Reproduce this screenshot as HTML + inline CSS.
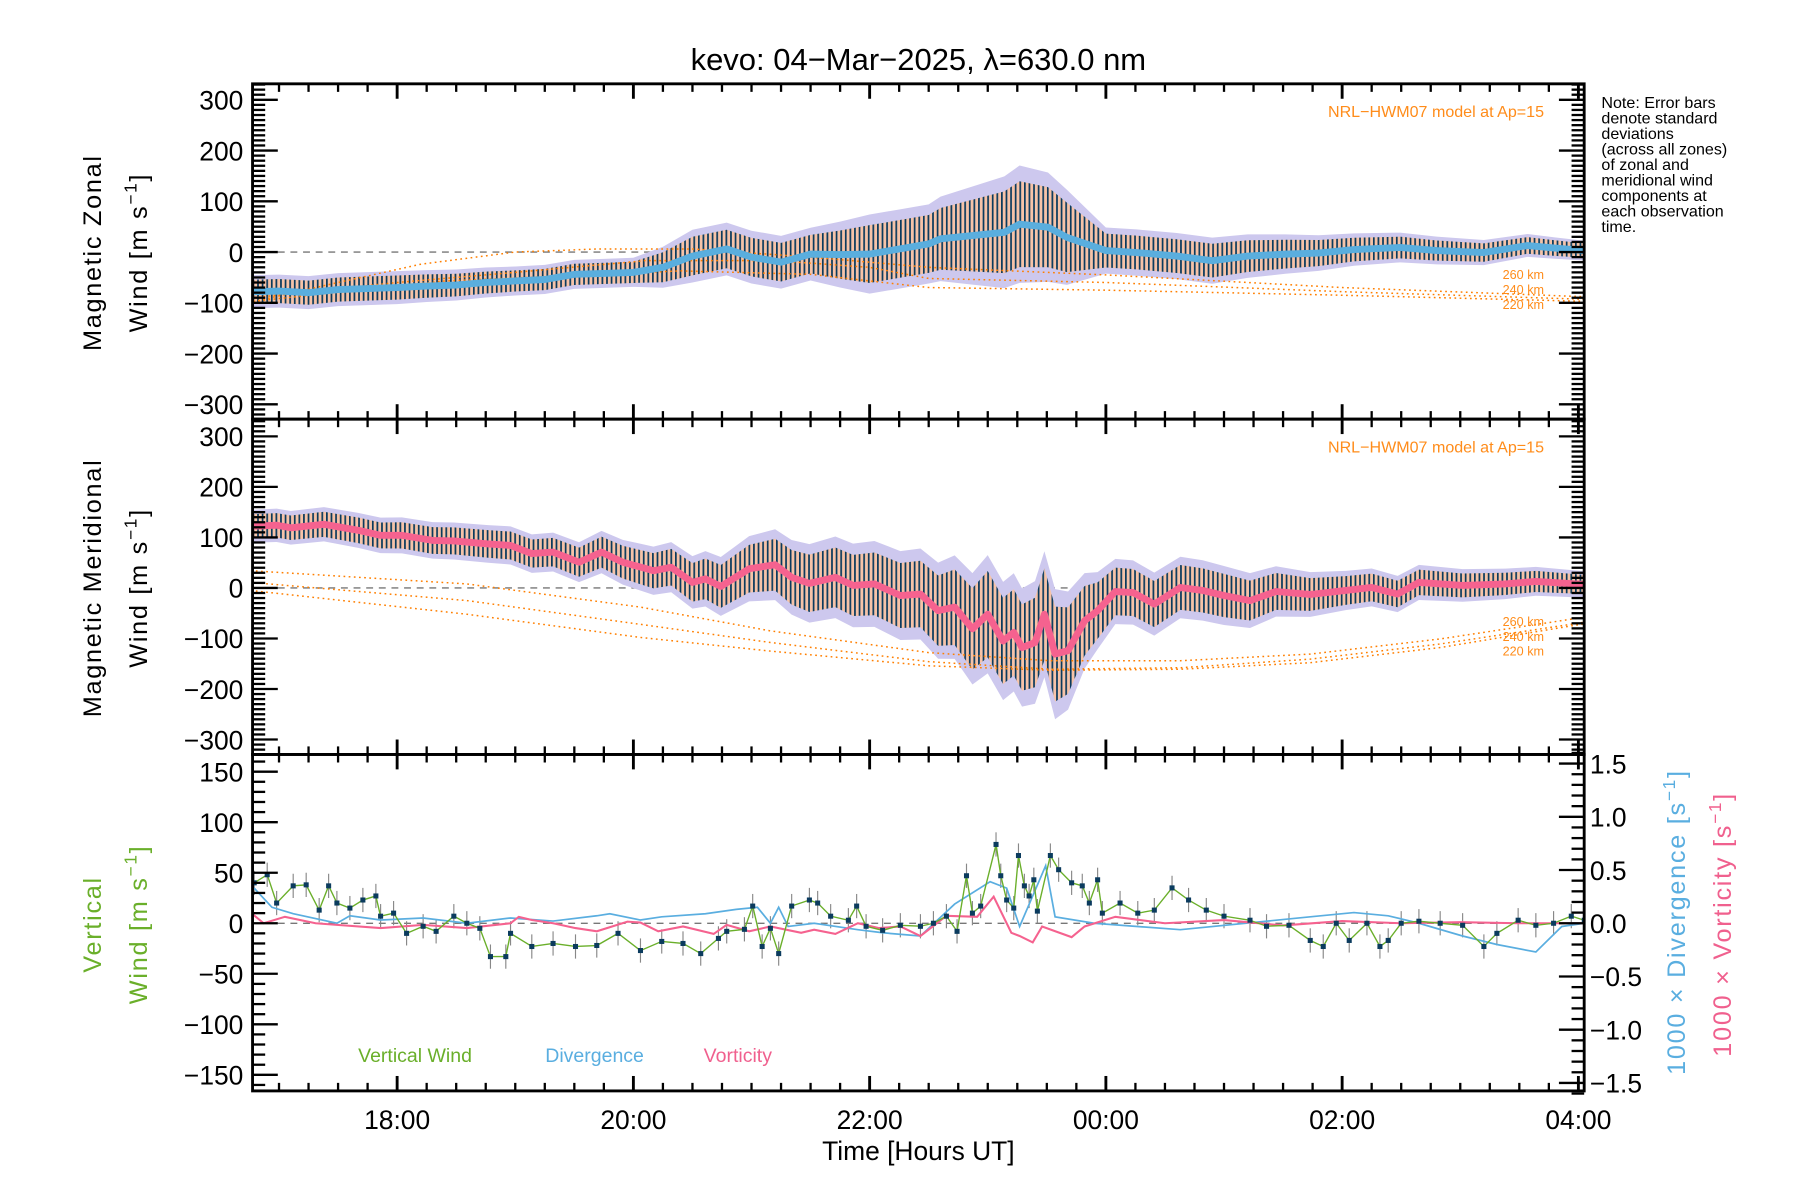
<!DOCTYPE html>
<html><head><meta charset="utf-8">
<style>
html,body{margin:0;padding:0;background:#fff;}
svg{display:block;font-family:"Liberation Sans",sans-serif;}
</style></head>
<body>
<svg id="chart" width="1800" height="1200" viewBox="0 0 1568 1045" preserveAspectRatio="none" xmlns="http://www.w3.org/2000/svg">
<defs>
<pattern id="stripes" width="4" height="10" patternUnits="userSpaceOnUse">
<rect width="4" height="10" fill="#f6c3a8"/>
<rect x="0" width="1.5" height="10" fill="#0b3b5e"/>
</pattern>
</defs>
<text x="800" y="61" font-size="27" text-anchor="middle">kevo: 04−Mar−2025, λ=630.0 nm</text>
<g id="plots"></g>
<g font-size="14" fill="#000">
<text x="1395" y="94">Note: Error bars</text>
<text x="1395" y="107.5">denote standard</text>
<text x="1395" y="121">deviations</text>
<text x="1395" y="134.5">(across all zones)</text>
<text x="1395" y="148">of zonal and</text>
<text x="1395" y="161.5">meridional wind</text>
<text x="1395" y="175">components at</text>
<text x="1395" y="188.5">each observation</text>
<text x="1395" y="202">time.</text>
</g>
<g font-size="22">
<text transform="translate(88,220) rotate(-90)" text-anchor="middle" letter-spacing="1.5">Magnetic Zonal</text>
<text transform="translate(128,220) rotate(-90)" text-anchor="middle" letter-spacing="1.5">Wind [m s<tspan dy="-9" font-size="15">−1</tspan><tspan dy="9">]</tspan></text>
</g>
<g font-size="22">
<text transform="translate(88,512) rotate(-90)" text-anchor="middle" letter-spacing="1.5">Magnetic Meridional</text>
<text transform="translate(128,512) rotate(-90)" text-anchor="middle" letter-spacing="1.5">Wind [m s<tspan dy="-9" font-size="15">−1</tspan><tspan dy="9">]</tspan></text>
</g>
<g font-size="22" fill="#6aaf2a">
<text transform="translate(88,805) rotate(-90)" text-anchor="middle" letter-spacing="1.5">Vertical</text>
<text transform="translate(128,805) rotate(-90)" text-anchor="middle" letter-spacing="1.5">Wind [m s<tspan dy="-9" font-size="15">−1</tspan><tspan dy="9">]</tspan></text>
</g>
<text font-size="22" fill="#5aaee0" transform="translate(1468,803) rotate(-90)" text-anchor="middle" letter-spacing="1.5">1000 × Divergence [s<tspan dy="-9" font-size="15">−1</tspan><tspan dy="9">]</tspan></text>
<text font-size="22" fill="#f0608e" transform="translate(1508,805) rotate(-90)" text-anchor="middle" letter-spacing="1.5">1000 × Vorticity [s<tspan dy="-9" font-size="15">−1</tspan><tspan dy="9">]</tspan></text>
<text x="800" y="1010" font-size="23" text-anchor="middle">Time [Hours UT]</text>
<g font-size="17">
<text x="312" y="925" fill="#6aaf2a">Vertical Wind</text>
<text x="475" y="925" fill="#5aaee0">Divergence</text>
<text x="613" y="925" fill="#f0608e">Vorticity</text>
</g>
</svg>
<script>
// ---------- data ----------
const zonalHours = [16.78,17.0,17.25,17.5,17.75,18.0,18.25,18.5,18.75,19.0,19.25,19.5,19.75,20.0,20.25,20.5,20.79,21.0,21.25,21.5,21.75,22.0,22.25,22.5,22.6,23.14,23.27,23.51,23.67,24.0,24.26,24.6,24.9,25.2,25.52,25.8,26.1,26.49,26.8,27.2,27.57,27.8,28.05];
const zonalMean = [-78,-77,-80,-74,-72,-70,-67,-65,-60,-57,-54,-44,-42,-40,-30,-8,6,-10,-20,-4,-5,-4,6,16,26,39,55,49,29,3,-1,-8,-17,-8,-4,-2,5,9,3,-1,13,8,3];
const zonalStdHours = [16.78,18.0,19.0,20.0,20.5,21.0,21.5,22.0,22.5,23.0,23.3,23.6,24.0,25.0,26.0,27.0,28.05];
const zonalStd = [25,25,22,22,40,40,40,60,60,80,90,80,35,35,25,20,15];
const meridHours = [16.76,16.98,17.1,17.38,17.67,17.86,18.04,18.3,18.48,18.77,18.96,19.14,19.32,19.54,19.73,19.91,20.17,20.32,20.5,20.61,20.74,20.98,21.2,21.34,21.49,21.71,21.86,22.04,22.26,22.43,22.58,22.72,22.87,23.0,23.13,23.22,23.29,23.4,23.48,23.57,23.68,23.82,23.93,24.08,24.23,24.41,24.63,24.82,25.0,25.22,25.44,25.73,26.03,26.25,26.47,26.65,27.02,27.38,27.64,28.05];
const meridMean = [122,124,119,126,114,104,104,94,93,87,84,68,71,51,71,51,34,41,11,18,3,38,46,21,9,21,5,8,-15,-12,-45,-38,-81,-52,-105,-88,-118,-108,-52,-131,-124,-65,-45,-7,-9,-32,1,-5,-15,-25,-7,-13,-5,1,-12,11,5,8,13,7];
const meridStdHours = [16.76,19.5,20.5,21.5,22.5,23.0,23.3,23.6,24.0,25.0,26.0,27.0,28.05];
const meridStd = [25,30,40,60,70,90,90,100,50,45,30,25,20];
const modelZHours260 = [16.78,17.5,18.2,19.0,19.7,20.5,21.5,22.5,24.0,26.0,28.05];
const modelZ260 = [-98,-60,-24,0,6,6,-10,-30,-45,-70,-88];
const modelZHours240 = [16.78,18.0,19.0,20.1,21.2,22.0,22.5,24.0,26.0,28.05];
const modelZ240 = [-90,-60,-40,-17,-17,-30,-52,-60,-78,-93];
const modelZHours220 = [16.78,18.4,20.4,21.5,22.5,24.0,26.0,28.05];
const modelZ220 = [-97,-57,-37,-44,-70,-75,-85,-97];
const modelMHours = [16.76,18.59,20.06,21.16,22.5,23.53,24.63,25.73,26.83,28.05];
const modelM260 = [34,8,-38,-85,-128,-144,-144,-131,-101,-58];
const modelM240 = [11,-25,-72,-108,-146,-161,-158,-141,-111,-68];
const modelM220 = [-5,-52,-98,-125,-154,-163,-161,-148,-118,-71];
const vwHours = [16.79,16.9,16.98,17.12,17.23,17.34,17.42,17.49,17.6,17.71,17.82,17.86,17.97,18.08,18.22,18.33,18.48,18.59,18.7,18.79,18.92,18.96,19.14,19.32,19.51,19.69,19.87,20.06,20.24,20.42,20.57,20.72,20.79,20.94,21.01,21.09,21.16,21.23,21.34,21.49,21.56,21.67,21.82,21.89,21.97,22.11,22.26,22.43,22.54,22.65,22.74,22.82,22.87,22.94,23.07,23.11,23.16,23.22,23.26,23.31,23.35,23.39,23.42,23.53,23.6,23.71,23.8,23.86,23.93,23.97,24.12,24.27,24.41,24.56,24.7,24.85,25.0,25.22,25.36,25.55,25.73,25.84,25.95,26.06,26.21,26.32,26.39,26.5,26.65,26.83,27.02,27.2,27.31,27.49,27.64,27.79,27.94,28.05];
const vwValue = [40,48,20,37,38,13,37,20,15,23,27,7,10,-10,-3,-8,7,0,-5,-33,-33,-10,-23,-20,-23,-22,-10,-27,-18,-20,-30,-15,-8,-6,17,-23,-5,-30,17,23,20,7,3,17,-3,-7,-2,-3,0,7,-8,47,10,17,78,47,23,15,67,37,27,43,12,67,53,40,37,20,43,10,20,10,13,35,23,13,7,3,-3,-2,-17,-23,0,-17,0,-23,-17,0,2,0,-2,-23,-10,3,-2,0,7,3];
const divHours = [16.79,16.94,17.12,17.49,17.6,17.86,18.22,18.59,18.96,19.32,19.69,19.8,20.06,20.24,20.61,20.87,21.05,21.16,21.23,21.31,21.53,21.9,22.11,22.43,22.72,23.02,23.16,23.27,23.49,23.57,23.9,24.63,25.73,26.1,26.39,26.65,27.02,27.31,27.64,27.86,28.05];
const divValue = [0.33,0.15,0.09,0,0.07,0.03,0.05,0,0.05,0.02,0.07,0.09,0.03,0.06,0.09,0.13,0.15,0,0.15,-0.03,0,-0.06,-0.09,-0.12,0.18,0.39,0.33,-0.03,0.54,0.06,0,-0.06,0.06,0.1,0.07,0,-0.12,-0.2,-0.27,-0.03,0];
const vortHours = [16.76,16.87,17.05,17.31,17.49,17.86,18.22,18.59,18.96,19.03,19.14,19.32,19.51,19.69,19.95,20.06,20.21,20.42,20.68,20.79,20.98,21.16,21.42,21.53,21.71,21.9,22.08,22.26,22.43,22.65,22.91,23.05,23.2,23.27,23.38,23.46,23.71,23.82,24.08,24.5,25.0,25.5,26.0,26.5,27.0,27.5,28.05];
const vortValue = [0.1,0,0.06,0,-0.015,-0.045,-0.015,-0.045,0,0.06,0.03,0,-0.045,-0.075,0.015,0.006,-0.075,-0.03,-0.1,-0.015,-0.075,-0.03,-0.09,-0.06,-0.1,0,-0.045,-0.03,-0.12,0.07,0.06,0.25,-0.09,-0.12,-0.18,-0.03,-0.13,-0.03,0.06,0,0.03,-0.02,0.02,0,0.01,0,0];
const xTickHours = [18,20,22,24,26,28];
const xTickLabels = ["18:00","20:00","22:00","00:00","02:00","04:00"];
const windTicks = [300,200,100,0,-100,-200,-300];
const vertTicks = [150,100,50,0,-50,-100,-150];
const rightTicks = [1.5,1.0,0.5,0.0,-0.5,-1.0,-1.5];

// ---------- scales ----------
const L=220,R=1380,H0=16.776,HPX=102.9;
const X=h=>L+(h-H0)*HPX;
const P=[{top:73,bot:365,y:v=>219.5-v*0.442,lo:-330,hi:330},
         {top:365,bot:657,y:v=>512-v*0.44,lo:-330,hi:330},
         {top:657,bot:950,y:v=>804-v*0.88,lo:-167,hi:167}];
const YR=d=>804-d*92.7;
const NS="http://www.w3.org/2000/svg";
const root=document.getElementById('plots');
function mk(tag,attrs,parent){const e=document.createElementNS(NS,tag);for(const k in attrs)e.setAttribute(k,attrs[k]);(parent||root).appendChild(e);return e;}
function interp(hs,vs,h){if(h<=hs[0])return vs[0];for(let i=1;i<hs.length;i++){if(h<=hs[i]){const t=(h-hs[i-1])/(hs[i]-hs[i-1]);return vs[i-1]+t*(vs[i]-vs[i-1]);}}return vs[vs.length-1];}
function pts(hs,vs,yf){return hs.map((h,i)=>X(h).toFixed(1)+','+yf(vs[i]).toFixed(1)).join(' ');}
function bandPts(hs,vs,shs,svs,k,yf){
  const up=[],dn=[];
  hs.forEach((h,i)=>{const s=interp(shs,svs,h)*k;up.push(X(h).toFixed(1)+','+yf(vs[i]+s).toFixed(1));dn.unshift(X(h).toFixed(1)+','+yf(vs[i]-s).toFixed(1));});
  return up.concat(dn).join(' ');
}
const defs=document.querySelector('defs');
P.forEach((p,i)=>{const c=mk('clipPath',{id:'clip'+i},defs);mk('rect',{x:L,y:p.top,width:R-L,height:p.bot-p.top},c);});

// ---------- panels 1 & 2 ----------
function windPanel(idx,name,hs,vs,shs,svs,lineColor,models,labelsY){
  const p=P[idx];
  const g=mk('g',{'clip-path':'url(#clip'+idx+')'});
  
  
  const z=mk('line',{x1:L,x2:R,y1:p.y(0),y2:p.y(0),stroke:'#777','stroke-width':1.2,'stroke-dasharray':'6,5'},g);
  
  
  const sc=mk('polygon',{points:bandPts(hs,vs,shs,svs,1.3,p.y),fill:'#cdc8ee'},g);
  
  
  const eb=mk('polygon',{points:bandPts(hs,vs,shs,svs,0.95,p.y),fill:'url(#stripes)'},g);
  
  
  models.forEach(m=>{
    const l=mk('polyline',{points:pts(m.h,m.v,p.y),fill:'none',stroke:'#ff7f00','stroke-width':1.3,'stroke-dasharray':'1.5,3'},g);
    
    
  });
  const ml=mk('polyline',{points:pts(hs,vs,p.y),fill:'none',stroke:lineColor,'stroke-width':6,'stroke-linejoin':'round'},g);
  
  
  const t=mk('text',{x:1345,y:p.top+29,'font-size':14,fill:'#ff8c1a','text-anchor':'end'});
  t.textContent='NRL−HWM07 model at Ap=15';
  
  
  ['260 km','240 km','220 km'].forEach((s,i)=>{
    const a=mk('text',{x:1345,y:labelsY+i*13,'font-size':11,fill:'#ff8c1a','text-anchor':'end'});
    a.textContent=s;
    
    
  });
}
windPanel(0,'zonal',zonalHours,zonalMean,zonalStdHours,zonalStd,'#5aaede',
 [{h:modelZHours260,v:modelZ260,alt:260},{h:modelZHours240,v:modelZ240,alt:240},{h:modelZHours220,v:modelZ220,alt:220}],243);
windPanel(1,'meridional',meridHours,meridMean,meridStdHours,meridStd,'#f5628f',
 [{h:modelMHours,v:modelM260,alt:260},{h:modelMHours,v:modelM240,alt:240},{h:modelMHours,v:modelM220,alt:220}],545);

// ---------- panel 3 ----------
(function(){
  const p=P[2];
  const g=mk('g',{'clip-path':'url(#clip2)'});
  
  
  const z=mk('line',{x1:L,x2:R,y1:p.y(0),y2:p.y(0),stroke:'#777','stroke-width':1.2,'stroke-dasharray':'6,5'},g);
  
  
  vwHours.forEach((h,i)=>{
    const e=mk('line',{x1:X(h),x2:X(h),y1:p.y(vwValue[i]+12),y2:p.y(vwValue[i]-12),stroke:'#888','stroke-width':1},g);
    
    
  });
  const dv=mk('polyline',{points:pts(divHours,divValue,YR),fill:'none',stroke:'#5aaee0','stroke-width':1.5},g);
  
  
  const vt=mk('polyline',{points:pts(vortHours,vortValue,YR),fill:'none',stroke:'#f5628f','stroke-width':1.8},g);
  
  
  const vw=mk('polyline',{points:pts(vwHours,vwValue,p.y),fill:'none',stroke:'#6aaf2a','stroke-width':1.2},g);
  
  
  vwHours.forEach((h,i)=>{
    const m=mk('rect',{x:X(h)-2.2,y:p.y(vwValue[i])-2.2,width:4.4,height:4.4,fill:'#0b3b5e'},g);
    
    
  });
})();

// ---------- axes ----------
P.forEach((p,idx)=>{
  const ax=mk('g',{});
  
  
  const fr=mk('rect',{x:L,y:p.top,width:R-L,height:p.bot-p.top,fill:'none',stroke:'#000','stroke-width':2.5},ax);
  
  
  for(let h=17;h<=28.05;h+=0.25){
    const major=Math.abs(h/2-Math.round(h/2))<1e-6;
    const len=major?13:7;
    mk('line',{x1:X(h),x2:X(h),y1:p.bot,y2:p.bot-len,stroke:'#000','stroke-width':major?2.5:2},ax);
    mk('line',{x1:X(h),x2:X(h),y1:p.top,y2:p.top+len,stroke:'#000','stroke-width':major?2.5:2},ax);
  }
  const majorStep=idx<2?100:50, minorStep=10;
  for(let v=Math.ceil(p.lo/minorStep)*minorStep;v<=p.hi;v+=minorStep){
    const major=v%majorStep===0;
    const len=major?22:11;
    mk('line',{x1:L,x2:L+len,y1:p.y(v),y2:p.y(v),stroke:'#000','stroke-width':2},ax);
    if(idx<2) mk('line',{x1:R,x2:R-len,y1:p.y(v),y2:p.y(v),stroke:'#000','stroke-width':2},ax);
  }
  const ticks=idx<2?windTicks:vertTicks;
  ticks.forEach(v=>{
    const t=mk('text',{x:212,y:p.y(v)+8.5,'font-size':23,'text-anchor':'end'},ax);
    t.textContent=(v<0?'−'+(-v):String(v));
    
    
  });
});
(function(){
  const ax=mk('g',{});
  
  
  for(let k=-16;k<=16;k++){
    const d=k/10, major=k%5===0;
    const len=major?22:11;
    mk('line',{x1:R,x2:R-len,y1:YR(d),y2:YR(d),stroke:'#000','stroke-width':2},ax);
  }
  rightTicks.forEach(d=>{
    const t=mk('text',{x:1385,y:YR(d)+8.5,'font-size':23},ax);
    t.textContent=(d<0?'−':'')+Math.abs(d).toFixed(1);
    
    
  });
})();
xTickHours.forEach((h,i)=>{
  const t=mk('text',{x:X(h),y:983,'font-size':23,'text-anchor':'middle'});
  t.textContent=xTickLabels[i];
  
  
});
</script>
</body></html>
